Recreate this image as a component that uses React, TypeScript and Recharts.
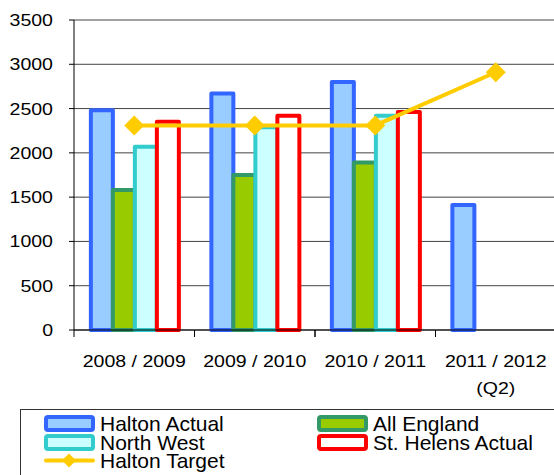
import React from "react";
import { ComposedChart, Bar, Line, XAxis, YAxis, CartesianGrid } from "recharts";

const categories = ["2008 / 2009", "2009 / 2010", "2010 / 2011", "2011 / 2012\n(Q2)"];
const haltonActual = [2480, 2670, 2800, 1410];
const allEngland = [1580, 1750, 1890, null];
const northWest = [2070, 2290, 2420, null];
const stHelensActual = [2350, 2420, 2460, null];
const haltonTarget = [2310, 2310, 2310, 2910];
const yTicks = [0, 500, 1000, 1500, 2000, 2500, 3000, 3500];

const FONT = "'Liberation Sans', Arial, sans-serif";

const data = categories.map((name, i) => ({
  name,
  halton: haltonActual[i],
  england: allEngland[i],
  northWest: northWest[i],
  stHelens: stHelensActual[i],
  target: haltonTarget[i],
}));

const legendItems = [
  { label: "Halton Actual", kind: "bar", fill: "#99CCFF", stroke: "#3366FF", col: 0, row: 0 },
  { label: "All England", kind: "bar", fill: "#99CC00", stroke: "#339966", col: 1, row: 0 },
  { label: "North West", kind: "bar", fill: "#CCFFFF", stroke: "#33CCCC", col: 0, row: 1 },
  { label: "St. Helens Actual", kind: "bar", fill: "#FFFFFF", stroke: "#FF0000", col: 1, row: 1 },
  { label: "Halton Target", kind: "line", fill: "#FFCC00", stroke: "#FFCC00", col: 0, row: 2 },
];

function YTick(props: any) {
  const { x, y, payload } = props;
  return (
    <text
      transform={`translate(${x},${y}) scale(1.15,1)`}
      textAnchor="end"
      dy="0.35em"
      fontSize={17}
      fontFamily={FONT}
      fill="#000"
    >
      {payload.value}
    </text>
  );
}

// category labels, plus Excel-style tick marks on the category boundaries
function XTick(props: any) {
  const { x, y, payload } = props;
  const half = payload.offset || 0;
  const lines = String(payload.value).split("\n");
  return (
    <g transform={`translate(${x},${y})`}>
      <line x1={-half} y1={0} x2={-half} y2={7} stroke="#000" />
      <line x1={half} y1={0} x2={half} y2={7} stroke="#000" />
      {lines.map((l, i) => (
        <text
          key={i}
          transform={`translate(0,${37 + i * 27}) scale(1.15,1)`}
          textAnchor="middle"
          fontSize={17}
          fontFamily={FONT}
          fill="#000"
        >
          {l}
        </text>
      ))}
    </g>
  );
}

function Diamond(props: any) {
  const { cx, cy } = props;
  if (cx == null || cy == null) return null;
  const r = 10;
  return (
    <polygon
      points={`${cx},${cy - r} ${cx + r},${cy} ${cx},${cy + r} ${cx - r},${cy}`}
      fill="#FFCC00"
    />
  );
}

function LegendBox() {
  const colX = [44, 317];
  const baseY = [431, 450, 468];
  return (
    <svg width={554} height={475} style={{ position: "absolute", left: 0, top: 0, pointerEvents: "none" }}>
      <rect x={20.5} y={409.5} width={560} height={80} fill="none" stroke="#333" strokeWidth={1} />
      {legendItems.map((it) => {
        const x = colX[it.col];
        const b = baseY[it.row];
        const cy = b - 7.5;
        return (
          <g key={it.label}>
            {it.kind === "bar" ? (
              <rect x={x + 2} y={cy - 6.5} width={47} height={13} rx={2} fill={it.fill} stroke={it.stroke} strokeWidth={4} />
            ) : (
              <g>
                <line x1={x + 2} y1={cy} x2={x + 49} y2={cy} stroke={it.stroke} strokeWidth={4} strokeLinecap="round" />
                <polygon points={`${x + 25},${cy - 7} ${x + 32},${cy} ${x + 25},${cy + 7} ${x + 18},${cy}`} fill={it.fill} />
              </g>
            )}
            <text x={x + 56} y={b} fontSize={21} fontFamily={FONT} fill="#000">
              {it.label}
            </text>
          </g>
        );
      })}
    </svg>
  );
}

export default function App() {
  return (
    <div style={{ position: "absolute", left: 0, top: 0, width: 554, height: 475, overflow: "hidden", background: "#fff" }}>
      <ComposedChart
        width={556}
        height={475}
        data={data}
        margin={{ top: 20, right: 0, left: 0, bottom: 65 }}
        barCategoryGap="14%"
        barGap={0}
      >
        <CartesianGrid vertical={false} stroke="#444" strokeWidth={1} />
        <XAxis
          dataKey="name"
          interval={0}
          tickLine={false}
          axisLine={{ stroke: "#000" }}
          tickSize={0}
          tickMargin={0}
          height={80}
          tick={<XTick />}
        />
        <YAxis
          width={74}
          domain={[0, 3500]}
          ticks={yTicks}
          tickSize={5}
          tickMargin={16}
          axisLine={{ stroke: "#000" }}
          tickLine={{ stroke: "#000" }}
          tick={<YTick />}
        />
        <Bar dataKey="halton" name="Halton Actual" fill="#99CCFF" stroke="#3366FF" strokeWidth={4} strokeLinejoin="round" isAnimationActive={false} />
        <Bar dataKey="england" name="All England" fill="#99CC00" stroke="#339966" strokeWidth={4} strokeLinejoin="round" isAnimationActive={false} />
        <Bar dataKey="northWest" name="North West" fill="#CCFFFF" stroke="#33CCCC" strokeWidth={4} strokeLinejoin="round" isAnimationActive={false} />
        <Bar dataKey="stHelens" name="St. Helens Actual" fill="#FFFFFF" stroke="#FF0000" strokeWidth={4} strokeLinejoin="round" isAnimationActive={false} />
        <Line
          dataKey="target"
          name="Halton Target"
          stroke="#FFCC00"
          strokeWidth={4}
          dot={<Diamond />}
          activeDot={false}
          isAnimationActive={false}
        />
      </ComposedChart>
      <LegendBox />
    </div>
  );
}
